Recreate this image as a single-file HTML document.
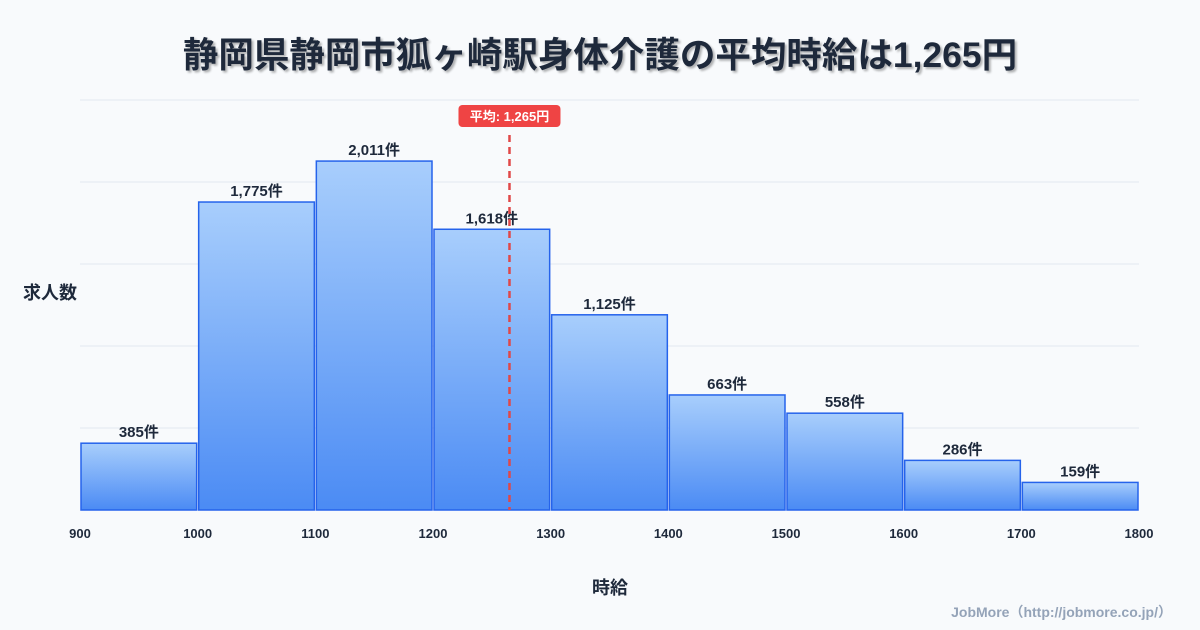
<!DOCTYPE html>
<html><head><meta charset="utf-8"><style>
body{margin:0;background:#f8fafc;}
svg{display:block;font-family:"Liberation Sans","Noto Sans CJK JP",sans-serif;}
</style></head><body>
<svg id="c" width="1200" height="630" viewBox="0 0 1200 630">
<defs><linearGradient id="g" x1="0" y1="0" x2="0" y2="1"><stop offset="0" stop-color="#a8cefc"/><stop offset="1" stop-color="#4b8bf4"/></linearGradient></defs>
<rect width="1200" height="630" fill="#f8fafc"/>
<text x="600" y="67" text-anchor="middle" font-size="35.5" font-weight="bold" fill="#1e293b" style="text-shadow:2px 2px 2px rgba(0,0,0,0.3)">静岡県静岡市狐ヶ崎駅身体介護の平均時給は1,265円</text>
<g id="grid"></g><g id="bars"></g><g id="xt"></g>
<text x="50" y="299" text-anchor="middle" font-size="18" font-weight="bold" fill="#1e293b">求人数</text>
<text x="610" y="594" text-anchor="middle" font-size="18" font-weight="bold" fill="#1e293b">時給</text>
<text x="1172" y="617" text-anchor="end" font-size="14" font-weight="bold" fill="#94a3b8">JobMore（http://jobmore.co.jp/）</text>
<g id="mean"></g>
</svg>
<script>
const binStarts=[900,1000,1100,1200,1300,1400,1500,1600,1700];
const counts=[385,1775,2011,1618,1125,663,558,286,159];
const xTicks=[900,1000,1100,1200,1300,1400,1500,1600,1700,1800];
const meanValue=1265;
const NS="http://www.w3.org/2000/svg";
const X0=80,X1=1139,Y0=510,YT=100,xmin=900,xmax=1800,ymax=2363;
const sx=v=>X0+(v-xmin)/(xmax-xmin)*(X1-X0);
const sy=v=>Y0-v/ymax*(Y0-YT);
function mk(t,a,p){const e=document.createElementNS(NS,t);for(const k in a)e.setAttribute(k,a[k]);p.appendChild(e);return e;}
const grid=document.getElementById('grid');
for(let i=0;i<=5;i++){const y=YT+i*(Y0-YT)/5;const l=mk('line',{x1:X0,x2:X1,y1:y,y2:y,stroke:'#e2e8f0','stroke-width':1},grid);

}
const bars=document.getElementById('bars');
binStarts.forEach((b,i)=>{const x=sx(b)+1,w=sx(b+100)-sx(b)-2,y=sy(counts[i]);
const r=mk('rect',{x:x,y:y,width:w,height:Y0-y,fill:'url(#g)',stroke:'#2563eb','stroke-width':1.5},bars);


const t=mk('text',{x:x+w/2,y:y-6,'text-anchor':'middle','font-size':15,'font-weight':'bold',fill:'#1e293b'},bars);
t.textContent=counts[i].toLocaleString('en-US')+'件';

});
const xt=document.getElementById('xt');
xTicks.forEach(v=>{const t=mk('text',{x:sx(v),y:538,'text-anchor':'middle','font-size':13,'font-weight':'bold',fill:'#1e293b'},xt);
t.textContent=v;

});
const m=document.getElementById('mean');const mx=sx(meanValue);
const ml=mk('line',{x1:mx,x2:mx,y1:135,y2:Y0,stroke:'#e04848','stroke-width':2.5,'stroke-dasharray':'7,5'},m);


const mb=mk('rect',{x:mx-51,y:105,width:102,height:22,rx:4,fill:'#ef4444'},m);


const mt=mk('text',{x:mx,y:121,'text-anchor':'middle','font-size':13,'font-weight':'bold',fill:'#fff'},m);
mt.textContent='平均: '+meanValue.toLocaleString('en-US')+'円';


</script>
</body></html>
